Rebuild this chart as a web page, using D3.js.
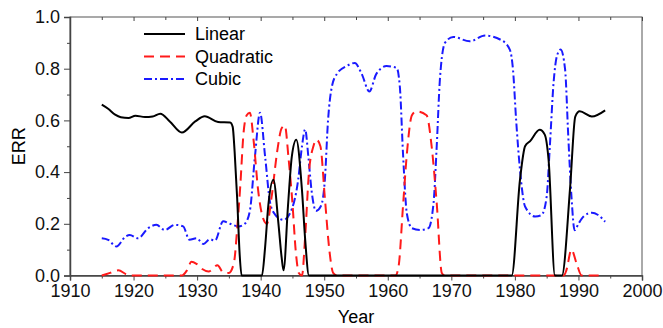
<!DOCTYPE html>
<html>
<head>
<meta charset="utf-8">
<script src="https://cdn.jsdelivr.net/npm/d3@7"></script>
<style>
  body { margin: 0; background: #fff; }
  svg { font-family: "Liberation Sans", Arial, sans-serif; }
  .axis path, .axis line { stroke: #444; }
  .axis text { font-size: 18px; fill: #111; }
</style>
</head>
<body>
<script>
// series (year, ERR)
const linearYears = [1915, 1916, 1917.1, 1918, 1919.2, 1920.3, 1921.8, 1923, 1924.2, 1925.7, 1927.6, 1929.7, 1931.2, 1933.3, 1935.2, 1935.6, 1935.9, 1936.3, 1936.7, 1937.0, 1940.2, 1940.7, 1941.2, 1942.0, 1942.8, 1943.3, 1943.6, 1944.3, 1944.9, 1945.6, 1946.5, 1947.0, 1947.6, 1979.5, 1980.8, 1981.6, 1982.4, 1983.9, 1984.7, 1985.3, 1986.3, 1987.4, 1988.7, 1989.5, 1990.2, 1992.1, 1994.2];
const linearERR   = [0.661, 0.645, 0.622, 0.612, 0.609, 0.618, 0.613, 0.615, 0.626, 0.596, 0.553, 0.596, 0.616, 0.594, 0.592, 0.575, 0.48, 0.3, 0.08, 0, 0, 0.11, 0.27, 0.37, 0.2, 0.07, 0.02, 0.27, 0.46, 0.525, 0.33, 0.14, 0, 0, 0.37, 0.5, 0.52, 0.564, 0.545, 0.448, 0, 0, 0.344, 0.615, 0.635, 0.615, 0.639];

const quadYears = [1915, 1916.3, 1917.6, 1918.9, 1919.5, 1927.6, 1928.4, 1929.1, 1929.9, 1930.8, 1931.8, 1932.6, 1933.2, 1934.1, 1935.0, 1935.8, 1936.3, 1936.8, 1937.3, 1937.8, 1938.3, 1938.9, 1939.6, 1940.4, 1941.0, 1941.7, 1942.6, 1943.3, 1943.8, 1944.4, 1945.0, 1945.5, 1946.0, 1946.5, 1947.0, 1947.6, 1948.3, 1948.8, 1949.4, 1950.1, 1950.8, 1951.4, 1952.0, 1961.2, 1961.7, 1962.4, 1963.0, 1963.8, 1964.5, 1966.1, 1966.9, 1967.7, 1968.5, 1969.0, 1987.7, 1988.1, 1988.9, 1989.7, 1990.5, 1994.0];
const quadERR   = [0, 0.01, 0.02, 0.004, 0, 0, 0.02, 0.053, 0.045, 0.025, 0.015, 0.03, 0.04, 0.012, 0.01, 0.05, 0.18, 0.35, 0.55, 0.62, 0.63, 0.52, 0.33, 0.22, 0.2, 0.3, 0.48, 0.57, 0.58, 0.45, 0.28, 0.1, 0.01, 0, 0.15, 0.4, 0.5, 0.525, 0.5, 0.3, 0.1, 0.01, 0, 0, 0.035, 0.27, 0.47, 0.62, 0.635, 0.62, 0.5, 0.28, 0.01, 0, 0, 0.02, 0.1, 0.047, 0, 0];

const cubicYears = [1915, 1916, 1917.3, 1918.7, 1919.4, 1920.7, 1922.3, 1923.6, 1924.9, 1926.5, 1927.8, 1928.8, 1929.9, 1931, 1932, 1932.8, 1934.1, 1935.2, 1936.5, 1937.5, 1938.3, 1939.1, 1939.9, 1940.7, 1941.5, 1942.3, 1943.6, 1944.6, 1945.9, 1946.5, 1947, 1947.5, 1948, 1948.7, 1949.5, 1950.1, 1950.6, 1951.2, 1952, 1953.5, 1954.8, 1955.9, 1957.1, 1958.2, 1959.8, 1961.4, 1961.9, 1962.4, 1963, 1963.8, 1965.1, 1966.4, 1967.2, 1967.7, 1968.2, 1969, 1970.3, 1972.9, 1975.3, 1977.9, 1979.2, 1979.7, 1980.2, 1980.8, 1981.6, 1983.2, 1984.2, 1985, 1985.5, 1986.1, 1986.6, 1987.2, 1987.9, 1988.4, 1988.9, 1989.4, 1990, 1990.8, 1992.1, 1993.1, 1994.2];
const cubicERR   = [0.144, 0.138, 0.112, 0.15, 0.157, 0.144, 0.183, 0.196, 0.176, 0.196, 0.19, 0.138, 0.144, 0.122, 0.14, 0.135, 0.21, 0.2, 0.19, 0.2, 0.25, 0.46, 0.63, 0.46, 0.28, 0.235, 0.215, 0.24, 0.37, 0.5, 0.565, 0.46, 0.33, 0.25, 0.27, 0.37, 0.6, 0.73, 0.78, 0.81, 0.822, 0.78, 0.712, 0.78, 0.81, 0.803, 0.73, 0.47, 0.24, 0.183, 0.176, 0.183, 0.28, 0.5, 0.758, 0.9, 0.923, 0.906, 0.928, 0.91, 0.874, 0.797, 0.6, 0.41, 0.267, 0.228, 0.234, 0.305, 0.5, 0.75, 0.848, 0.874, 0.797, 0.538, 0.305, 0.175, 0.2, 0.228, 0.243, 0.234, 0.208];

const seriesNames = ["Linear", "Quadratic", "Cubic"];
const xTicks = [1910, 1920, 1930, 1940, 1950, 1960, 1970, 1980, 1990, 2000];
const yTicks = [0, 0.2, 0.4, 0.6, 0.8, 1.0];

const W = 663, H = 328;
const margin = {left: 70, right: 21, top: 17, bottom: 52.5};

const svg = d3.select("body").append("svg")
    .attr("width", W)
    .attr("height", H);

const x = d3.scaleLinear().domain([1910, 2000]).range([margin.left, W - margin.right]);
const y = d3.scaleLinear().domain([0, 1]).range([H - margin.bottom, margin.top]);

// minor ticks every 5 years / 0.1
const xMinor = d3.range(1915, 2000, 10);
const yMinor = [0.1, 0.3, 0.5, 0.7, 0.9];

// frame (top + right)
svg.append("rect")
    .attr("x", x(1910)).attr("y", y(1))
    .attr("width", x(2000) - x(1910)).attr("height", y(0) - y(1))
    .attr("fill", "none").attr("stroke", "#555").attr("stroke-width", 1);

// top ticks pointing inward
const topAxis = svg.append("g").attr("class", "axis")
    .attr("transform", `translate(0,${y(1)})`)
    .call(d3.axisBottom(x).tickValues(xTicks).tickSize(4).tickFormat(""));
topAxis.select(".domain").remove();
const topMinor = svg.append("g").attr("class", "axis")
    .attr("transform", `translate(0,${y(1)})`)
    .call(d3.axisBottom(x).tickValues(xMinor).tickSize(3).tickFormat(""));
topMinor.select(".domain").remove();

// bottom axis
const bottom = svg.append("g").attr("class", "axis")
    .attr("transform", `translate(0,${y(0)})`)
    .call(d3.axisBottom(x).tickValues(xTicks).tickSize(5).tickPadding(4).tickFormat(d3.format("d")));
bottom.select(".domain").attr("stroke-width", 1.5);
const bottomMinor = svg.append("g").attr("class", "axis")
    .attr("transform", `translate(0,${y(0)})`)
    .call(d3.axisBottom(x).tickValues(xMinor).tickSize(3).tickFormat(""));
bottomMinor.select(".domain").remove();

// left axis
const left = svg.append("g").attr("class", "axis")
    .attr("transform", `translate(${x(1910)},0)`)
    .call(d3.axisLeft(y).tickValues(yTicks).tickSize(6).tickPadding(4).tickFormat(d3.format(".1f")));
left.select(".domain").attr("stroke-width", 1.5);
const leftMinor = svg.append("g").attr("class", "axis")
    .attr("transform", `translate(${x(1910)},0)`)
    .call(d3.axisLeft(y).tickValues(yMinor).tickSize(3).tickFormat(""));
leftMinor.select(".domain").remove();

// axis titles
svg.append("text")
    .attr("x", (x(1910) + x(2000)) / 2).attr("y", 323)
    .attr("text-anchor", "middle")
    .attr("font-size", 18)
    .text("Year");
svg.append("text")
    .attr("transform", `translate(25,${(y(0) + y(1)) / 2}) rotate(-90)`)
    .attr("text-anchor", "middle")
    .attr("font-size", 18)
    .text("ERR");

const styles = [
    {color: "#000000", dash: null},
    {color: "#ff1a1a", dash: "10,6"},
    {color: "#1a1aff", dash: "8,3,2,3"}
];
const seriesData = [
    d3.zip(linearYears, linearERR),
    d3.zip(quadYears, quadERR),
    d3.zip(cubicYears, cubicERR)
];

const line = d3.line()
    .x(d => x(d[0]))
    .y(d => y(d[1]))
    .curve(d3.curveMonotoneX);

// draw cubic first, linear last (on top)
[2, 1, 0].forEach(i => {
    svg.append("path")
        .datum(seriesData[i])
        .attr("d", line)
        .attr("fill", "none")
        .attr("stroke", styles[i].color)
        .attr("stroke-width", 2)
        .attr("stroke-dasharray", styles[i].dash);
});

// legend
const legend = svg.append("g");
seriesNames.forEach((name, i) => {
    const ly = 34 + i * 22.5;
    legend.append("line")
        .attr("x1", 144).attr("x2", 185)
        .attr("y1", ly).attr("y2", ly)
        .attr("stroke", styles[i].color)
        .attr("stroke-width", 2)
        .attr("stroke-dasharray", styles[i].dash);
    legend.append("text")
        .attr("x", 195).attr("y", ly)
        .attr("dy", "0.35em")
        .attr("font-size", 18)
        .text(name);
});
</script>
</body>
</html>
